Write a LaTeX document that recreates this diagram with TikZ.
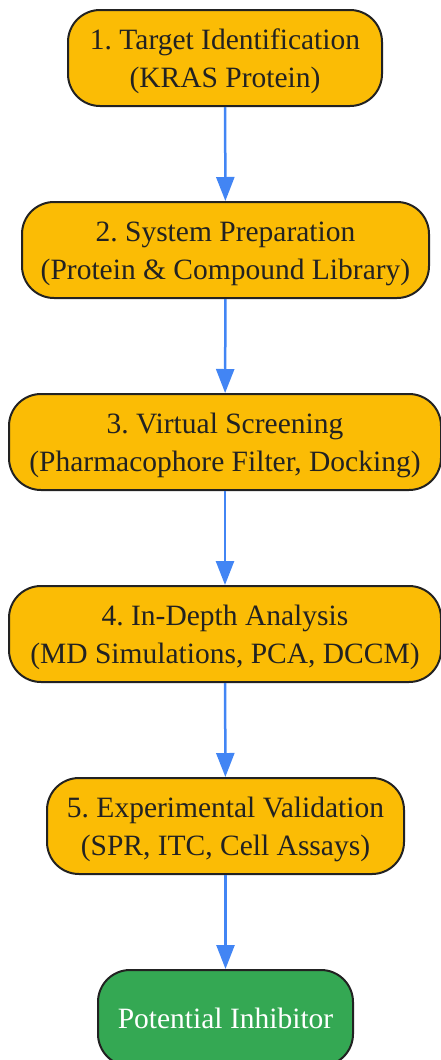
\documentclass[tikz,border=0pt]{standalone}
\usepackage{fontspec}
\setmainfont{Liberation Serif}
\usetikzlibrary{arrows.meta}
\definecolor{boxfill}{HTML}{FBBC05}
\definecolor{endfill}{HTML}{34A853}
\definecolor{edgeblue}{HTML}{4285F4}
\definecolor{ink}{HTML}{222222}
\newcommand{\lowtext}{\rule{0pt}{27pt}}
\tikzset{
  stepbox/.style={draw=ink, line width=2pt, fill=boxfill, rounded corners=32pt,
    minimum height=96pt, inner sep=0pt, align=center, text=ink,
    font=\fontsize{29.5}{37.5}\selectfont\frenchspacing},
  endbox/.style={stepbox, fill=endfill, text=white},
  flow/.style={draw=edgeblue, line width=2.5pt, -{Triangle[width=18pt,length=24pt]}}
}
\begin{document}
\begin{tikzpicture}[x=1pt,y=-1pt]
\useasboundingbox (0,0) rectangle (441,1060);
\node[stepbox, minimum width=314pt] (s1) at (225,58) {\lowtext1. Target Identification\\(KRAS Protein)};
\node[stepbox, minimum width=407pt] (s2) at (225.5,250) {\lowtext2. System Preparation\\(Protein \& Compound Library)};
\node[stepbox, minimum width=432pt] (s3) at (225,442) {\lowtext3. Virtual Screening\\(Pharmacophore Filter, Docking)};
\node[stepbox, minimum width=432pt] (s4) at (225,634) {\lowtext4. In-Depth Analysis\\(MD Simulations, PCA, DCCM)};
\node[stepbox, minimum width=357pt] (s5) at (225.5,826) {\lowtext5. Experimental Validation\\(SPR, ITC, Cell Assays)};
\node[endbox, minimum width=255pt] (s6) at (225.5,1018) {Potential Inhibitor};
\draw[flow] (s1) -- (s2);
\draw[flow] (s2) -- (s3);
\draw[flow] (s3) -- (s4);
\draw[flow] (s4) -- (s5);
\draw[flow] (s5) -- (s6);
\end{tikzpicture}
\end{document}
